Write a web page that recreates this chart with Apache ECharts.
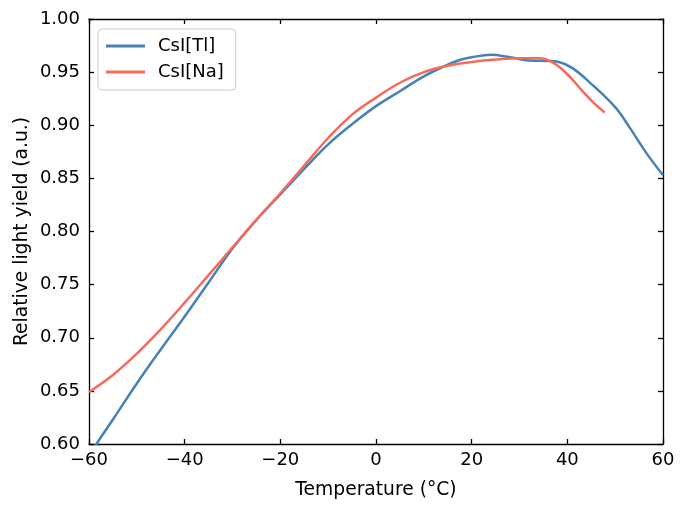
<!DOCTYPE html>
<html>
<head>
<meta charset="utf-8">
<script src="https://cdn.jsdelivr.net/npm/echarts@6/dist/echarts.min.js"></script>
<style>html,body{margin:0;padding:0;background:#fff;}#c{width:689px;height:518px;}</style>
</head>
<body>
<div id="c"></div>
<script>
// Data
const tlTemps = [-60, -58, -55, -50, -45, -40, -35, -30, -25, -20, -15, -10, -5, 0, 5, 10, 15, 17.5, 20, 24, 28, 32, 36, 38, 41, 45, 50, 53, 56.5, 60];
const tlYield = [0.589, 0.603, 0.623, 0.657, 0.689, 0.720, 0.752, 0.784, 0.811, 0.835, 0.859, 0.882, 0.901, 0.918, 0.932, 0.946, 0.957, 0.9614, 0.9640, 0.9663, 0.9640, 0.9610, 0.9605, 0.9597, 0.9540, 0.939, 0.917, 0.898, 0.874, 0.853];
const naTemps = [-60, -55, -50, -45, -40, -35, -30, -25, -20, -15, -10, -5, 0, 5, 10, 15, 20, 25, 30, 34, 37, 40, 43, 45.3, 47.8];
const naYield = [0.649, 0.665, 0.685, 0.708, 0.733, 0.759, 0.785, 0.811, 0.836, 0.862, 0.888, 0.910, 0.926, 0.940, 0.950, 0.9560, 0.9595, 0.9618, 0.9630, 0.9630, 0.9590, 0.948, 0.933, 0.922, 0.912];
const seriesNames = ['CsI[Tl]', 'CsI[Na]'];
const xTicks = [-60, -40, -20, 0, 20, 40, 60];
const yTicks = [0.60, 0.65, 0.70, 0.75, 0.80, 0.85, 0.90, 0.95, 1.00];

const FONT = 'DejaVu Sans';
const FS = 18;
const FT = 18.7;
const pair = (xs, ys) => xs.map((x, i) => [x, ys[i]]);
const chart = echarts.init(document.getElementById('c'), null, {renderer: 'canvas'});
const axisLine = {show: true, onZero: false, lineStyle: {color: '#000', width: 1.3}};
const tickIn = {show: true, inside: true, length: 5, lineStyle: {color: '#000', width: 1.3}};
const xMin = xTicks[0], xMax = xTicks[xTicks.length - 1], xInt = xTicks[1] - xTicks[0];
const yMin = yTicks[0], yMax = yTicks[yTicks.length - 1];
chart.setOption({
  animation: false,
  backgroundColor: '#fff',
  textStyle: {fontFamily: FONT},
  grid: {left: 89, top: 19, width: 574, height: 425, containLabel: false},
  legend: {
    data: seriesNames,
    orient: 'vertical',
    left: 98, top: 29,
    backgroundColor: '#fff',
    borderColor: '#cccccc', borderWidth: 1, borderRadius: 4,
    padding: [8, 12, 9, 8],
    itemGap: 8,
    itemWidth: 39, itemHeight: 3,
    icon: 'rect',
    textStyle: {fontFamily: FONT, fontSize: FS, color: '#000', padding: [0, 0, 0, 8]}
  },
  xAxis: [{
    type: 'value', min: xMin, max: xMax, interval: xInt,
    name: 'Temperature (°C)', nameLocation: 'middle', nameGap: 37,
    nameTextStyle: {fontFamily: FONT, fontSize: FT, color: '#000'},
    axisLine: axisLine, axisTick: tickIn,
    axisLabel: {fontFamily: FONT, fontSize: FS, color: '#000', margin: 7,
      formatter: v => String(v).replace('-', '\u2212')},
    splitLine: {show: false}
  }, {
    type: 'value', position: 'top', min: xMin, max: xMax, interval: xInt,
    axisLine: axisLine, axisTick: tickIn, axisLabel: {show: false}, splitLine: {show: false}
  }],
  yAxis: [{
    type: 'value', min: yMin, max: yMax, interval: 0.05,
    name: 'Relative light yield (a.u.)', nameLocation: 'middle', nameGap: 57,
    nameMoveOverlap: false,
    nameTextStyle: {fontFamily: FONT, fontSize: FT, color: '#000'},
    axisLine: axisLine, axisTick: tickIn,
    axisLabel: {fontFamily: FONT, fontSize: FS, color: '#000', margin: 9,
      formatter: v => v.toFixed(2)},
    splitLine: {show: false}
  }, {
    type: 'value', position: 'right', min: yMin, max: yMax, interval: 0.05,
    axisLine: axisLine, axisTick: tickIn, axisLabel: {show: false}, splitLine: {show: false}
  }],
  series: [{
    name: seriesNames[0], type: 'line', data: pair(tlTemps, tlYield),
    smooth: 0.4, showSymbol: false, symbol: 'none', clip: true,
    lineStyle: {color: '#4682b4', width: 2.5}, itemStyle: {color: '#4682b4'}, z: 2
  }, {
    name: seriesNames[1], type: 'line', data: pair(naTemps, naYield),
    smooth: 0.4, showSymbol: false, symbol: 'none', clip: true,
    lineStyle: {color: '#f66a5b', width: 2.5}, itemStyle: {color: '#f66a5b'}, z: 3
  }]
});
</script>
</body>
</html>
